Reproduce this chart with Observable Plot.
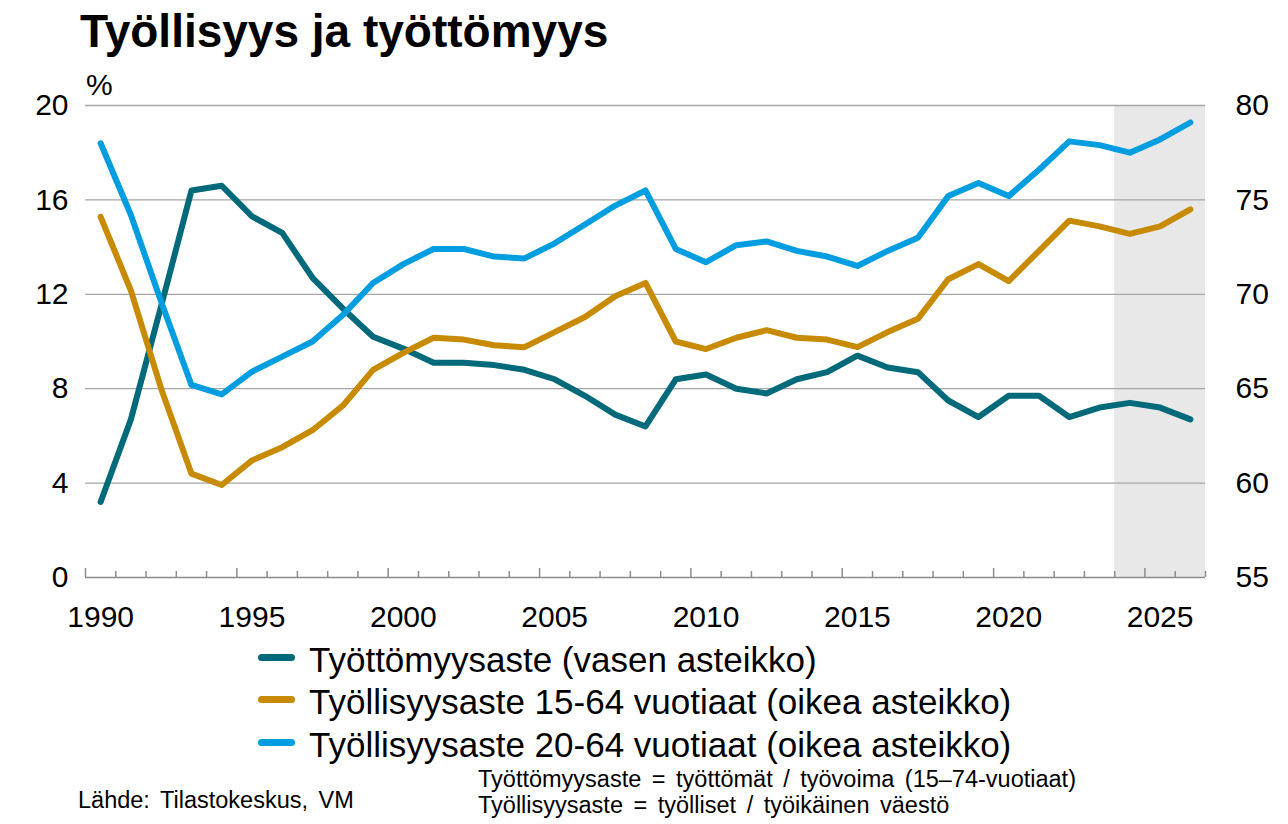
<!DOCTYPE html>
<html><head><meta charset="utf-8">
<script src="https://cdn.jsdelivr.net/npm/d3@7"></script>
<script src="https://cdn.jsdelivr.net/npm/@observablehq/plot@0.6"></script>
<style>
body{margin:0;background:#fff;font-family:"Liberation Sans",Arial,sans-serif;color:#000}
#wrap{position:relative;width:1288px;height:824px;overflow:hidden}
#chart{position:absolute;left:0;top:0}
.t{position:absolute;white-space:nowrap;line-height:1}
#title{left:80px;top:8px;font-size:46px;font-weight:bold}
#unit{left:86px;top:70px;font-size:30px}
.leg{position:absolute;left:258px;font-size:35px;line-height:1;white-space:nowrap}
.leg span.sw{position:absolute;left:0;width:37px;height:7px;border-radius:4px}
.leg span.tx{position:absolute;left:51px;top:0}
.note{font-size:23.5px;word-spacing:4px}
</style></head>
<body><div id="wrap">
<div id="chart"></div>
<div class="t" id="title">Työllisyys ja työttömyys</div>
<div class="t" id="unit">%</div>
<div id="legend"></div>
<div class="t note" style="left:78px;top:789px">Lähde: Tilastokeskus, VM</div>
<div class="t note" style="left:478px;top:768px">Työttömyysaste = työttömät / työvoima (15–74-vuotiaat)</div>
<div class="t note" style="left:478px;top:794px">Työllisyysaste = työlliset / työikäinen väestö</div>
</div>
<script>
const years = [1990,1991,1992,1993,1994,1995,1996,1997,1998,1999,2000,2001,2002,2003,2004,2005,2006,2007,2008,2009,2010,2011,2012,2013,2014,2015,2016,2017,2018,2019,2020,2021,2022,2023,2024,2025,2026];
const unemployment = [3.2,6.7,11.5,16.4,16.6,15.3,14.6,12.7,11.4,10.2,9.7,9.1,9.1,9.0,8.8,8.4,7.7,6.9,6.4,8.4,8.6,8.0,7.8,8.4,8.7,9.4,8.9,8.7,7.5,6.8,7.7,7.7,6.8,7.2,7.4,7.2,6.7];
const employment1564 = [74.1,70.2,65.0,60.5,59.9,61.2,61.9,62.8,64.1,66.0,66.9,67.7,67.6,67.3,67.2,68.0,68.8,69.9,70.6,67.5,67.1,67.7,68.1,67.7,67.6,67.2,68.0,68.7,70.8,71.6,70.7,72.3,73.9,73.6,73.2,73.6,74.5];
const employment2064 = [78.0,74.2,69.6,65.2,64.7,65.9,66.7,67.5,68.9,70.6,71.6,72.4,72.4,72.0,71.9,72.7,73.7,74.7,75.5,72.4,71.7,72.6,72.8,72.3,72.0,71.5,72.3,73.0,75.2,75.9,75.2,76.6,78.1,77.9,77.5,78.2,79.1];
const forecastYears = [2024,2025,2026];
const leftTicks = [0,4,8,12,16,20];
const rightTicks = [55,60,65,70,75,80];
const labelYears = [1990,1995,2000,2005,2010,2015,2020,2025];
const seriesNames = ["Työttömyysaste (vasen asteikko)","Työllisyysaste 15-64 vuotiaat (oikea asteikko)","Työllisyysaste 20-64 vuotiaat (oikea asteikko)"];
const seriesColors = ["#00697a","#c78a00","#009de0"];

// right axis (55..80) mapped onto left axis (0..20)
const r0 = rightTicks[0], r1 = rightTicks[rightTicks.length-1];
const l0 = leftTicks[0], l1 = leftTicks[leftTicks.length-1];
const toLeft = v => l0 + (v - r0) * (l1 - l0) / (r1 - r0);
const toRight = v => r0 + (v - l0) * (r1 - r0) / (l1 - l0);

const rows = years.map((y,i)=>({year:y, u:unemployment[i], a:toLeft(employment1564[i]), b:toLeft(employment2064[i])}));
const boundaries = d3.range(years[0]-0.5, years[years.length-1]+1, 1);
const majorB = boundaries.filter(b => (b+0.5) % 5 === 0);
const minorB = boundaries.filter(b => (b+0.5) % 5 !== 0);
const forecast = [{start: d3.min(forecastYears)-0.5, end: d3.max(forecastYears)+0.5}];

const H = 640, mT = 105, mB = 63;
const innerH = H - mT - mB;
const axisColor = "#8c8c8c";

const chart = Plot.plot({
  width: 1288, height: H,
  marginLeft: 85, marginRight: 83, marginTop: mT, marginBottom: mB,
  style: {fontFamily: "'Liberation Sans', Arial, sans-serif", fontSize: "30px", color: "#000", background: "transparent", overflow: "visible"},
  x: {domain: [years[0]-0.5, years[years.length-1]+0.5], axis: null},
  y: {domain: [l0, l1], axis: null},
  marks: [
    Plot.rect(forecast, {x1: "start", x2: "end", fill: "#e8e8e8"}),
    Plot.ruleY(leftTicks.filter(v => v > l0), {stroke: "#a6a6a6", strokeWidth: 1.3}),
    Plot.ruleY([l0], {stroke: axisColor, strokeWidth: 1.6}),
    Plot.tickX(minorB, {x: d => d, stroke: axisColor, strokeWidth: 1.5, insetTop: innerH - 6}),
    Plot.tickX(majorB, {x: d => d, stroke: axisColor, strokeWidth: 1.5, insetTop: innerH - 9}),
    Plot.axisX(labelYears, {anchor: "bottom", tickSize: 0, tickPadding: 28, tickFormat: d => `${d}`, fontSize: 30}),
    Plot.axisY(leftTicks, {anchor: "left", tickSize: 0, tickPadding: 17, tickFormat: d => `${d}`, fontSize: 30}),
    Plot.axisY(rightTicks.map(toLeft), {anchor: "right", tickSize: 0, tickPadding: 30, tickFormat: d => `${Math.round(toRight(d))}`, fontSize: 30}),
    Plot.line(rows, {x: "year", y: "u", stroke: seriesColors[0], strokeWidth: 6, strokeLinejoin: "round", strokeLinecap: "round"}),
    Plot.line(rows, {x: "year", y: "a", stroke: seriesColors[1], strokeWidth: 6, strokeLinejoin: "round", strokeLinecap: "round"}),
    Plot.line(rows, {x: "year", y: "b", stroke: seriesColors[2], strokeWidth: 6, strokeLinejoin: "round", strokeLinecap: "round"})
  ]
});
document.getElementById("chart").appendChild(chart);

const legTops = [642, 684, 727];
const legend = document.getElementById("legend");
seriesNames.forEach((name, i) => {
  const row = document.createElement("div");
  row.className = "leg";
  row.style.top = legTops[i] + "px";
  const sw = document.createElement("span");
  sw.className = "sw";
  sw.style.background = seriesColors[i];
  sw.style.top = "12px";
  const tx = document.createElement("span");
  tx.className = "tx";
  tx.textContent = name;
  row.appendChild(sw); row.appendChild(tx);
  legend.appendChild(row);
});
</script>
</body></html>
